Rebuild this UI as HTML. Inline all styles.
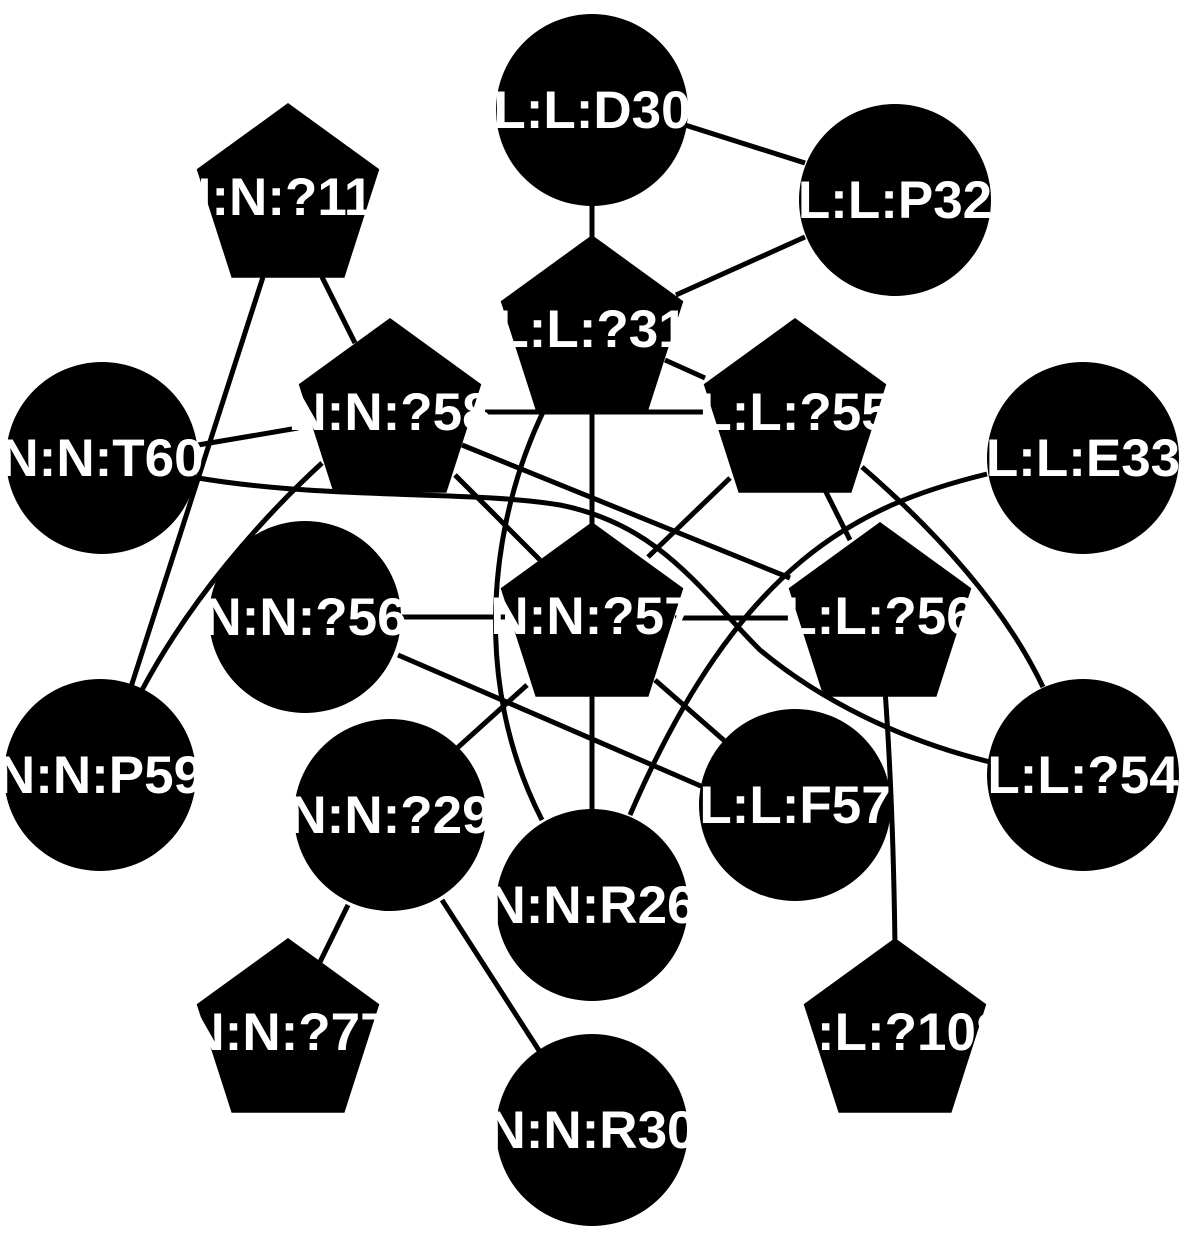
<!DOCTYPE html>
<html><head><meta charset="utf-8"><style>html,body{margin:0;padding:0;background:#fff}svg{display:block}</style></head><body>
<svg width="1184" height="1235" viewBox="0 0 1184 1235" xmlns="http://www.w3.org/2000/svg">
<g stroke="#000" stroke-width="5" fill="none">
<line x1="685" y1="125" x2="805" y2="163"/>
<line x1="592" y1="200" x2="592" y2="240"/>
<line x1="805" y1="237" x2="676" y2="295"/>
<line x1="322" y1="277" x2="355" y2="343"/>
<line x1="263" y1="277" x2="130" y2="690"/>
<line x1="198" y1="445" x2="298" y2="428"/>
<path d="M198,478 C330,500 470,490 560,505 C660,525 700,590 760,650 C820,700 900,740 990,762"/>
<line x1="485" y1="412" x2="705" y2="412"/>
<line x1="592" y1="405" x2="592" y2="525"/>
<line x1="665" y1="360" x2="705" y2="378"/>
<path d="M545,408 C490,520 470,680 542,820"/>
<line x1="455" y1="475" x2="540" y2="560"/>
<line x1="462" y1="445" x2="790" y2="578"/>
<path d="M322,463 C260,520 190,600 142,690"/>
<line x1="730" y1="478" x2="648" y2="557"/>
<line x1="825" y1="490" x2="850" y2="540"/>
<path d="M862,467 Q992,580 1043,687"/>
<path d="M987,474 C860,505 740,560 630,815"/>
<line x1="400" y1="617" x2="505" y2="617"/>
<line x1="675" y1="618" x2="795" y2="618"/>
<line x1="398" y1="655" x2="710" y2="790"/>
<line x1="527" y1="685" x2="455" y2="750"/>
<line x1="655" y1="680" x2="735" y2="750"/>
<line x1="592" y1="690" x2="592" y2="815"/>
<path d="M885,690 Q893,800 895,945"/>
<line x1="348" y1="905" x2="320" y2="962"/>
<line x1="442" y1="900" x2="540" y2="1052"/>
</g>
<g fill="#000">
<circle cx="592" cy="110" r="96"/>
<circle cx="895" cy="200" r="96"/>
<circle cx="102" cy="458" r="96"/>
<circle cx="1083" cy="458" r="96"/>
<circle cx="305" cy="617" r="96"/>
<circle cx="100" cy="775" r="96"/>
<circle cx="390" cy="815" r="96"/>
<circle cx="592" cy="905" r="96"/>
<circle cx="795" cy="805" r="96"/>
<circle cx="1083" cy="775" r="96"/>
<circle cx="592" cy="1130" r="96"/>
<polygon points="288,103 379.3,169.3 344.4,277.7 231.6,277.7 196.7,169.3"/>
<polygon points="592,235 683.3,301.3 648.4,409.7 535.6,409.7 500.7,301.3"/>
<polygon points="390,318 481.3,384.3 446.4,492.7 333.6,492.7 298.7,384.3"/>
<polygon points="795,318 886.3,384.3 851.4,492.7 738.6,492.7 703.7,384.3"/>
<polygon points="592,522 683.3,588.3 648.4,696.7 535.6,696.7 500.7,588.3"/>
<polygon points="880,522 971.3,588.3 936.4,696.7 823.6,696.7 788.7,588.3"/>
<polygon points="288,938 379.3,1004.3 344.4,1112.7 231.6,1112.7 196.7,1004.3"/>
<polygon points="895,938 986.3,1004.3 951.4,1112.7 838.6,1112.7 803.7,1004.3"/>
</g>
<g fill="#fff" font-family="Liberation Sans, Arial, sans-serif" font-weight="bold" font-size="53" text-anchor="middle">
<text x="592" y="128">L:L:D30</text>
<text x="895" y="218">L:L:P32</text>
<text x="102" y="476">N:N:T60</text>
<text x="1083" y="476">L:L:E33</text>
<text x="305" y="635">N:N:?56</text>
<text x="100" y="793">N:N:P59</text>
<text x="390" y="833">N:N:?29</text>
<text x="592" y="923">N:N:R26</text>
<text x="795" y="823">L:L:F57</text>
<text x="1083" y="793">L:L:?54</text>
<text x="592" y="1148">N:N:R30</text>
<text x="288" y="215">N:N:?110</text>
<text x="592" y="347">L:L:?31</text>
<text x="390" y="430">N:N:?58</text>
<text x="795" y="430">L:L:?55</text>
<text x="592" y="634">N:N:?57</text>
<text x="880" y="634">L:L:?56</text>
<text x="288" y="1050">N:N:?77</text>
<text x="895" y="1050">L:L:?108</text>
</g>
</svg>
</body></html>
